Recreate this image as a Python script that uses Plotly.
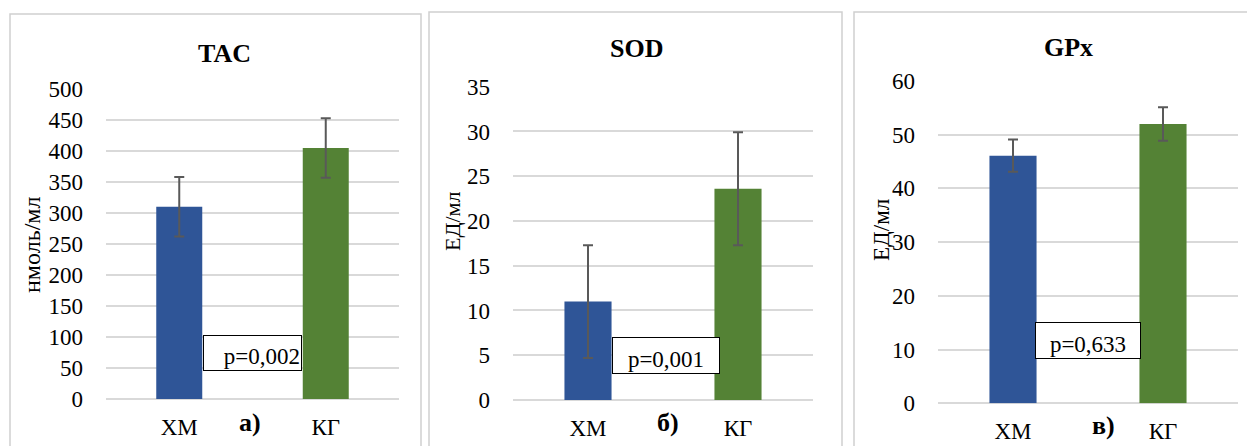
import plotly.graph_objects as go

W, H = 1255, 446
OFF = 8  # page body margin in the browser

categories = ["ХМ", "КГ"]
tac_mean = [310, 405]
tac_err = [48, 48]
sod_mean = [11.0, 23.6]
sod_err = [6.3, 6.3]
gpx_mean = [46.1, 52.0]
gpx_err = [3.0, 3.1]

titles = ["TAC", "SOD", "GPx"]
y_titles = ["нмоль/мл", "ЕД/мл", "ЕД/мл"]
letters = ["а)", "б)", "в)"]
p_texts = ["p=0,002", "p=0,001", "p=0,633"]
p_pos = [74, 4.97, 11.7]
y_ranges = [[0, 500], [0, 35], [0, 60]]
y_dticks = [50, 5, 10]

means = [tac_mean, sod_mean, gpx_mean]
errs = [tac_err, sod_err, gpx_err]

BLUE = "#2F5597"
GREEN = "#548235"
FONT = "Liberation Serif"

# pixel layout (left, right, top, bottom) of each plot area, in screen pixels
plot_px = [(106, 399, 89, 399), (513, 813, 86.7, 400), (938, 1238, 81, 403.3)]
panel_px = [(10, 421, 14), (429, 842, 12), (854, 1253, 12)]
title_px = [(224, 54), (636, 48), (1068, 47)]
ytitle_px = [(32, 245), (452, 222), (881, 230)]
ytitle_size = [24, 22, 23]
letter_px = [(250, 422), (668, 422), (1103, 425)]
pbox_px = [(101, 36), (110, 37), (108, 37)]
p_x = [0.5, 0.52, 0.5]
p_align = ["right", "center", "center"]


def px(x):
    return (x - OFF) / W


def py(y):
    return 1 - (y - OFF) / H


fig = go.Figure()
shapes = []
annotations = []

for i in range(3):
    ax = "" if i == 0 else str(i + 1)
    l, r, t, b = plot_px[i]
    fig.add_trace(go.Bar(
        x=categories, y=means[i],
        marker=dict(color=[BLUE, GREEN], line=dict(width=0)),
        error_y=dict(type="data", array=errs[i], visible=True,
                     color="#595959", thickness=2, width=5),
        xaxis="x" + ax, yaxis="y" + ax, showlegend=False,
    ))
    fig.update_layout(**{
        "xaxis" + ax: dict(domain=[px(l), px(r)], anchor="y" + ax,
                           automargin=False,
                           showgrid=False, showline=False, zeroline=False,
                           ticks="", ticklabelstandoff=12,
                           tickfont=dict(family=FONT, size=23, color="#000")),
        "yaxis" + ax: dict(domain=[py(b), py(t)], anchor="x" + ax,
                           automargin=False,
                           range=y_ranges[i], dtick=y_dticks[i],
                           showgrid=True, gridcolor="#d9d9d9", gridwidth=1.5,
                           zeroline=True, zerolinecolor="#d9d9d9", zerolinewidth=1.5,
                           showline=False, ticks="", ticklabelstandoff=22,
                           tickfont=dict(family=FONT, size=23, color="#000")),
    })
    pl, pr, pt = panel_px[i]
    shapes.append(dict(type="rect", xref="paper", yref="paper",
                       x0=px(pl), x1=px(pr), y0=-0.05, y1=py(pt),
                       line=dict(color="#d0d0d0", width=1.5)))
    annotations.append(dict(text="<b>%s</b>" % titles[i], xref="paper", yref="paper",
                            x=px(title_px[i][0]), y=py(title_px[i][1]),
                            xanchor="center", yanchor="middle", showarrow=False,
                            font=dict(family=FONT, size=26, color="#000")))
    annotations.append(dict(text=y_titles[i], xref="paper", yref="paper",
                            x=px(ytitle_px[i][0]), y=py(ytitle_px[i][1]),
                            xanchor="center", yanchor="middle", textangle=-90,
                            showarrow=False,
                            font=dict(family=FONT, size=ytitle_size[i], color="#000")))
    annotations.append(dict(text="<b>%s</b>" % letters[i], xref="paper", yref="paper",
                            x=px(letter_px[i][0]), y=py(letter_px[i][1]),
                            xanchor="center", yanchor="middle", showarrow=False,
                            font=dict(family=FONT, size=26, color="#000")))
    bw, bh = pbox_px[i]
    annotations.append(dict(text=p_texts[i], xref="x" + ax, yref="y" + ax,
                            x=p_x[i], y=p_pos[i], xanchor="center", yanchor="middle",
                            showarrow=False, width=bw - 6, height=bh - 4,
                            align=p_align[i], valign="bottom",
                            bordercolor="#000", borderwidth=1, borderpad=1,
                            bgcolor="#fff",
                            font=dict(family=FONT, size=23, color="#000")))

fig.update_layout(
    width=W, height=H,
    margin=dict(l=0, r=0, t=0, b=0, autoexpand=False),
    paper_bgcolor="#fff", plot_bgcolor="#fff",
    bargap=0.686,
    shapes=shapes, annotations=annotations,
)

fig.write_html("out.html")
